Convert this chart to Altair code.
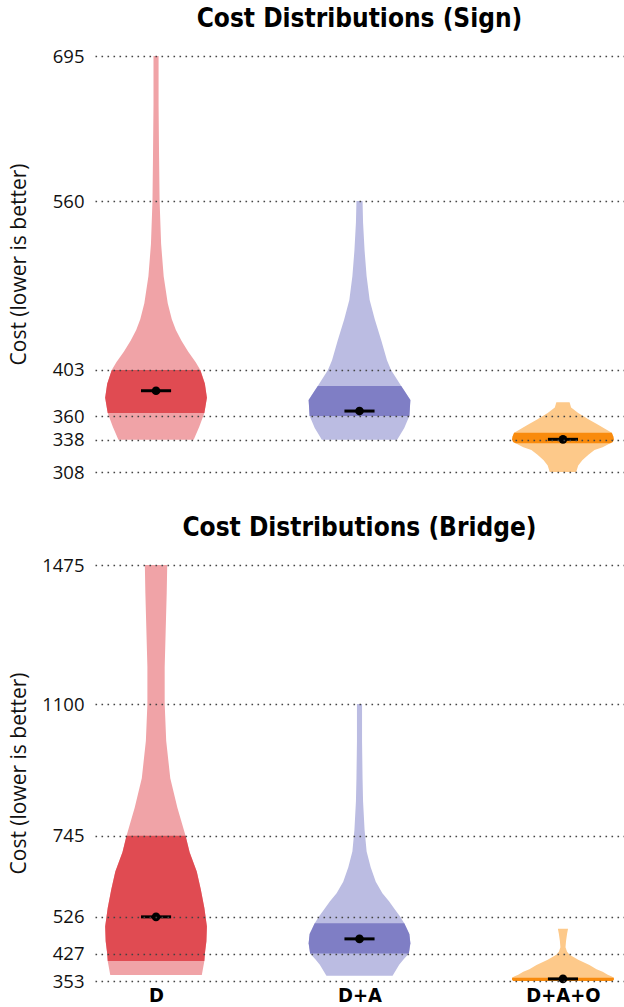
import altair as alt
import pandas as pd

groups = ["D", "D+A", "D+A+O"]
light_colors = ["#F0A3A7", "#BBBCE2", "#FDC98A"]
dark_colors = ["#E04B52", "#7F7EC5", "#F98B0D"]

# ---- Sign: violin outlines (cost level, relative half-width) ----
sign_d_cost = [695, 650, 600, 560, 520, 490, 465, 450, 440, 430, 420, 410, 403, 390, 377, 363, 350, 338]
sign_d_width = [0.05, 0.05, 0.06, 0.07, 0.10, 0.15, 0.23, 0.31, 0.39, 0.50, 0.63, 0.78, 0.87, 0.96, 1.0, 0.95, 0.85, 0.74]
sign_da_cost = [560, 540, 514, 490, 468, 450, 430, 412, 403, 388, 375, 360, 349, 338]
sign_da_width = [0.06, 0.07, 0.10, 0.14, 0.20, 0.30, 0.43, 0.54, 0.62, 0.82, 1.0, 0.98, 0.88, 0.74]
sign_dao_cost = [373, 368, 363, 357, 351.7, 347.5, 344.5, 341, 338.5, 336, 334.7, 331, 328.5, 324, 319, 314, 308]
sign_dao_width = [0.13, 0.16, 0.30, 0.50, 0.70, 0.85, 0.96, 0.99, 1.0, 0.98, 0.93, 0.78, 0.62, 0.50, 0.38, 0.30, 0.26]
sign_band_low = [363, 360, 334.7]
sign_band_high = [403, 388, 344.5]
sign_mean = [383.6, 364.7, 338.4]
sign_ticks = [308, 338, 360, 403, 560, 695]

# ---- Bridge: violin outlines (cost level, relative half-width) ----
bridge_d_cost = [1475, 1400, 1300, 1200, 1100, 1000, 900, 820, 745, 700, 648, 600, 550, 500, 460, 427, 407, 369]
bridge_d_width = [0.22, 0.21, 0.19, 0.17, 0.17, 0.20, 0.28, 0.42, 0.58, 0.66, 0.80, 0.88, 0.95, 1.0, 0.99, 0.96, 0.95, 0.90]
bridge_da_cost = [1100, 1000, 900, 838, 760, 702, 660, 621, 590, 568, 545, 526, 509, 480, 455, 427, 410, 397, 367]
bridge_da_width = [0.05, 0.05, 0.06, 0.07, 0.10, 0.14, 0.22, 0.32, 0.45, 0.58, 0.70, 0.80, 0.88, 0.98, 1.0, 0.97, 0.86, 0.78, 0.65]
bridge_dao_cost = [494, 480, 460, 444, 432, 424, 410, 396, 385, 378, 370, 365, 362, 357, 353]
bridge_dao_width = [0.10, 0.08, 0.06, 0.05, 0.08, 0.13, 0.30, 0.52, 0.66, 0.78, 0.88, 0.96, 1.0, 1.0, 0.98]
bridge_band_low = [407, 427, 353]
bridge_band_high = [745, 509, 362]
bridge_mean = [526, 466.6, 358.6]
bridge_ticks = [353, 427, 526, 745, 1100, 1475]

HALF = 0.25      # half-width of the widest violin, in x units
BAR = 0.074      # half-length of the marker bar at the mean
TITLE_FONT = "Liberation Sans Narrow, DejaVu Sans Condensed, Roboto, sans-serif"
LABEL_FONT = "Open Sans, sans-serif"


def outline(i, costs, widths):
    df = pd.DataFrame({"cost": costs, "rel": widths})
    df["left"] = i - df["rel"] * HALF
    df["right"] = i + df["rel"] * HALF
    return df.sort_values("cost").reset_index(drop=True)


def panel(title, costs, widths, band_low, band_high, means, ticks, show_x):
    height = 416
    yscale = alt.Scale(domain=[ticks[0], ticks[-1]], nice=False, zero=False)
    yaxis = alt.Axis(
        values=ticks, format="d", title="Cost (lower is better)", grid=True,
        gridDash=[1.6, 4.4], gridColor="#444", gridWidth=1.4,
        ticks=False, domain=False, labelFont=LABEL_FONT, labelFontSize=18.5,
        labelColor="#111", labelPadding=11, titleFont=LABEL_FONT,
        titleFontSize=21, titleFontWeight="normal", titleColor="#111",
        titleX=-66, titleY=height / 2, titleAngle=-90, titleBaseline="bottom",
        titleAlign="center", zindex=1,
    )
    if show_x:
        xaxis = alt.Axis(
            values=[0, 1, 2], title=None, grid=False, ticks=False, domain=False,
            labelExpr="['D', 'D+A', 'D+A+O'][datum.value]", labelFont=TITLE_FONT,
            labelFontSize=20, labelFontWeight="bold", labelColor="#000", labelPadding=4,
        )
    else:
        xaxis = None
    xscale = alt.Scale(domain=[-0.3, 2.3], nice=False, zero=False)

    layers = []
    for i, g in enumerate(groups):
        df = outline(i, costs[i], widths[i])
        band = df[(df["cost"] >= band_low[i]) & (df["cost"] <= band_high[i])]
        for data, col in ((df, light_colors[i]), (band, dark_colors[i])):
            layers.append(
                alt.Chart(data).mark_area(orient="horizontal", color=col, opacity=1).encode(
                    y=alt.Y("cost:Q", scale=yscale, axis=yaxis),
                    x=alt.X("left:Q", scale=xscale, axis=xaxis, stack=None),
                    x2="right:Q",
                )
            )

    stats = pd.DataFrame({"pos": list(range(len(groups))), "mean": means})
    stats["bar_left"] = stats["pos"] - BAR
    stats["bar_right"] = stats["pos"] + BAR
    layers.append(
        alt.Chart(stats).mark_rule(color="black", strokeWidth=3).encode(
            y=alt.Y("mean:Q", scale=yscale, axis=yaxis),
            x=alt.X("bar_left:Q", scale=xscale, axis=xaxis),
            x2="bar_right:Q",
        )
    )
    layers.append(
        alt.Chart(stats).mark_circle(color="black", opacity=1, size=75).encode(
            y=alt.Y("mean:Q", scale=yscale, axis=yaxis),
            x=alt.X("pos:Q", scale=xscale, axis=xaxis),
        )
    )
    return alt.layer(*layers).properties(
        width=529,
        height=height,
        title=alt.TitleParams(
            title, font=TITLE_FONT, fontSize=26, fontWeight="bold", color="#000",
            anchor="middle", offset=15,
        ),
    )


top = panel("Cost Distributions (Sign)", [sign_d_cost, sign_da_cost, sign_dao_cost],
            [sign_d_width, sign_da_width, sign_dao_width], sign_band_low, sign_band_high,
            sign_mean, sign_ticks, False)
bottom = panel("Cost Distributions (Bridge)", [bridge_d_cost, bridge_da_cost, bridge_dao_cost],
               [bridge_d_width, bridge_da_width, bridge_dao_width], bridge_band_low, bridge_band_high,
               bridge_mean, bridge_ticks, True)

chart = alt.vconcat(top, bottom, spacing=33).properties(
    padding={"left": 8, "top": 6, "right": 0, "bottom": 0},
    background="white",
).configure_view(stroke=None)

chart.save("out.html", embed_options={"renderer": "svg", "actions": False})
